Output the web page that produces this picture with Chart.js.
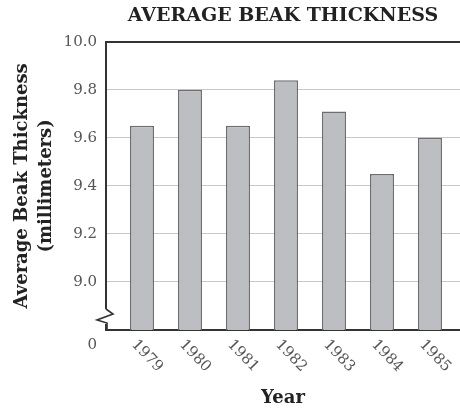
<!DOCTYPE html>
<html>
<head>
<meta charset="utf-8">
<script src="https://cdn.jsdelivr.net/npm/chart.js@4"></script>
<style>
  html, body { margin: 0; padding: 0; background: #fff; }
  #wrap { width: 460px; height: 410px; }
</style>
</head>
<body>
<div id="wrap"><canvas id="c" width="460" height="410"></canvas></div>
<script>
const years = ['1979', '1980', '1981', '1982', '1983', '1984', '1985'];
const beakThickness = [9.65, 9.80, 9.65, 9.84, 9.71, 9.45, 9.60];
const yTickValues = [8.8, 9.0, 9.2, 9.4, 9.6, 9.8, 10.0];
const yTickLabels = ['0', '9.0', '9.2', '9.4', '9.6', '9.8', '10.0'];
const chartTitle = 'AVERAGE BEAK THICKNESS';
const yTitle = ['Average Beak Thickness', '(millimeters)'];
const xTitle = 'Year';

const SERIF = '"DejaVu Serif", "Liberation Serif", serif';
const TICK_COLOR = '#555';
const AXIS_COLOR = '#333';

const extrasPlugin = {
  id: 'extras',
  afterDraw(chart) {
    const ctx = chart.ctx;
    const xs = chart.scales.x;
    const ys = chart.scales.y;
    const area = chart.chartArea;
    ctx.save();
    // rotated category labels (clockwise)
    ctx.font = '15px ' + SERIF;
    ctx.fillStyle = TICK_COLOR;
    ctx.textAlign = 'center';
    ctx.textBaseline = 'middle';
    years.forEach((lab, i) => {
      const px = xs.getPixelForValue(i);
      ctx.save();
      ctx.translate(px + 5, area.bottom + 26);
      ctx.rotate(46 * Math.PI / 180);
      ctx.fillText(lab, 0, 0);
      ctx.restore();
    });
    // "0" label below the broken axis
    ctx.textAlign = 'right';
    ctx.fillText(yTickLabels[0], area.left - 9, ys.getPixelForValue(yTickValues[0]) + 15);
    // axis break zigzag
    const L = area.left, B = area.bottom;
    ctx.fillStyle = '#fff';
    ctx.fillRect(L - 3, B - 21, 6, 15);
    ctx.strokeStyle = AXIS_COLOR;
    ctx.lineWidth = 1.6;
    ctx.lineJoin = 'miter';
    ctx.beginPath();
    ctx.moveTo(L, B - 21);
    ctx.lineTo(L + 7, B - 16);
    ctx.lineTo(L - 9, B - 10);
    ctx.lineTo(L + 1, B - 7);
    ctx.lineTo(L + 1, B);
    ctx.stroke();
    ctx.restore();
  }
};

new Chart(document.getElementById('c'), {
  type: 'bar',
  data: {
    datasets: [{
      data: beakThickness.map((v, i) => ({ x: i, y: v })),
      backgroundColor: '#bdbec2',
      borderColor: '#6e6e70',
      borderWidth: 1.5,
      barPercentage: 0.5,
      categoryPercentage: 1.0
    }]
  },
  options: {
    responsive: false,
    animation: false,
    layout: { padding: { left: 0, right: 0, top: 0, bottom: 0 } },
    plugins: {
      legend: { display: false },
      tooltip: { enabled: false },
      title: {
        display: true,
        text: chartTitle,
        fullSize: false,
        color: '#222',
        font: { family: SERIF, size: 19, weight: 'bold', lineHeight: 1.2 },
        padding: { top: 5, bottom: 14 }
      }
    },
    scales: {
      x: {
        type: 'linear',
        offset: false,
        min: -0.75,
        max: 6.625,
        grid: { display: false },
        border: { display: true, color: AXIS_COLOR, width: 2 },
        ticks: { display: false },
        title: {
          display: true,
          text: xTitle,
          color: '#222',
          font: { family: SERIF, size: 18, weight: 'bold', lineHeight: 1.2 },
          padding: { top: 0, bottom: 1 }
        },
        afterFit(scale) { scale.height = 80; }
      },
      y: {
        min: 8.8,
        max: 10.0,
        afterBuildTicks(scale) {
          scale.ticks = yTickValues.map(v => ({ value: v }));
        },
        ticks: {
          padding: 9,
          color: TICK_COLOR,
          font: { family: SERIF, size: 15 },
          callback(value, index) { return index === 0 ? '' : yTickLabels[index]; }
        },
        grid: {
          drawTicks: false,
          color: (c) => (c.tick && Math.abs(c.tick.value - 10) < 1e-6) ? AXIS_COLOR : '#c9c9c9',
          lineWidth: (c) => (c.tick && Math.abs(c.tick.value - 10) < 1e-6) ? 2 : 1
        },
        border: { display: true, color: AXIS_COLOR, width: 2 },
        title: {
          display: true,
          text: yTitle,
          color: '#222',
          font: { family: SERIF, size: 18, weight: 'bold', lineHeight: '24px' },
          padding: { top: 10, bottom: 0 }
        },
        afterFit(scale) { scale.width = 106; }
      }
    }
  },
  plugins: [extrasPlugin]
});
</script>
</body>
</html>
